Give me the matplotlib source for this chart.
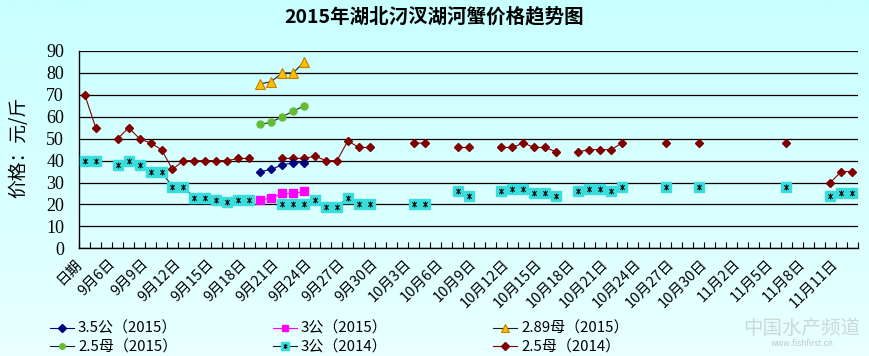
import numpy as np
import matplotlib
matplotlib.use('Agg')
import matplotlib.pyplot as plt
from matplotlib.path import Path
from matplotlib.lines import Line2D

plt.rcParams['font.family'] = ['Noto Sans CJK SC', 'DejaVu Sans']

N = np.nan

title = '2015年湖北汈汊湖河蟹价格趋势图'
ylabel = '价格：元/斤'

categories = [
    '日期',
    '9月4日', '9月5日', '9月6日', '9月7日', '9月8日', '9月9日', '9月10日', '9月11日', '9月12日',
    '9月13日', '9月14日', '9月15日', '9月16日', '9月17日', '9月18日', '9月19日', '9月20日',
    '9月21日', '9月22日', '9月23日', '9月24日', '9月25日', '9月26日', '9月27日', '9月28日',
    '9月29日', '9月30日',
    '10月1日', '10月2日', '10月3日', '10月4日', '10月5日', '10月6日', '10月7日', '10月8日',
    '10月9日', '10月10日', '10月11日', '10月12日', '10月13日', '10月14日', '10月15日',
    '10月16日', '10月17日', '10月18日', '10月19日', '10月20日', '10月21日', '10月22日',
    '10月23日', '10月24日', '10月25日', '10月26日', '10月27日', '10月28日', '10月29日',
    '10月30日', '10月31日',
    '11月1日', '11月2日', '11月3日', '11月4日', '11月5日', '11月6日', '11月7日', '11月8日',
    '11月9日', '11月10日', '11月11日', '11月12日',
]

# 2014 series
mu25_2014 = [70, 55, N, 50, 55, 50, 48, 45, 36, 40,
             40, 40, 40, 40, 41, 41, N, N, 41, 41,
             41, 42, 40, 40, 49, 46, 46, N, N, N,
             48, 48, N, N, 46, 46, N, N, 46, 46,
             48, 46, 46, 44, N, 44, 45, 45, 45, 48,
             N, N, N, 48, N, N, 48, N, N, N,
             N, N, N, N, 48, N, N, N, 30, 35,
             35]
gong3_2014 = [40, 40, N, 38, 40, 38, 35, 35, 28, 28,
              23, 23, 22, 21, 22, 22, N, N, 20, 20,
              20, 22, 19, 19, 23, 20, 20, N, N, N,
              20, 20, N, N, 26, 24, N, N, 26, 27,
              27, 25, 25, 24, N, 26, 27, 27, 26, 28,
              N, N, N, 28, N, N, 28, N, N, N,
              N, N, N, N, 28, N, N, N, 24, 25,
              25]

# 2015 series (only 9月19日 - 9月23日 reported)
gong35_2015 = [N] * 16 + [35, 36, 38, 39, 39] + [N] * 50
gong3_2015 = [N] * 16 + [22, 23, 25, 25, 26] + [N] * 50
mu289_2015 = [N] * 16 + [75, 76, 80, 80, 85] + [N] * 50
mu25_2015 = [N] * 16 + [56.5, 57.5, 60, 62.5, 65] + [N] * 50

labels = ['3.5公（2015）', '3公（2015）', '2.89母（2015）',
          '2.5母（2015）', '3公（2014）', '2.5母（2014）']

W, H = 869, 356
fig = plt.figure(figsize=(W / 100, H / 100), dpi=100)

# background gradient
bg = fig.add_axes([0, 0, 1, 1], zorder=-10)
grad = np.linspace(0, 1, 256)[:, None]
c_top = np.array([200, 255, 255]) / 255
c_bot = np.array([232, 255, 255]) / 255
img = c_top[None, None, :] * (1 - grad[:, :, None]) + c_bot[None, None, :] * grad[:, :, None]
img = np.repeat(img, 2, axis=1)
bg.imshow(img, aspect='auto', extent=[0, 1, 0, 1])
bg.set_axis_off()

left, right, top, bottom = 79.3, 857.7, 51.0, 248.3
ax = fig.add_axes([left / W, 1 - bottom / H, (right - left) / W, (bottom - top) / H])
ax.set_facecolor('none')

x = np.arange(len(categories))

star = Path([(0, -1), (0, 1), (-0.75, -0.75), (0.75, 0.75), (-0.75, 0.75), (0.75, -0.75)],
            [Path.MOVETO, Path.LINETO, Path.MOVETO, Path.LINETO, Path.MOVETO, Path.LINETO])

lw = 0.8
h_red, = ax.plot(x, mu25_2014, color='#800000', lw=lw, marker='D', ms=4.5,
                 mfc='#800000', mec='#800000', zorder=5)
h_cy, = ax.plot(x, gong3_2014, color='#1a1a3a', lw=lw, marker='s', ms=7.5,
                mfc='#38dede', mec='#38dede', zorder=4)
h_cy2, = ax.plot(x, gong3_2014, ls='none', marker=star, ms=4.2, mec='#101010',
                 mew=0.8, zorder=4.5)
h_navy, = ax.plot(x, gong35_2015, color='#000080', lw=lw, marker='D', ms=4.5,
                  mfc='#000080', mec='#000080', zorder=6)
h_mag, = ax.plot(x, gong3_2015, color='#ff00ff', lw=lw, marker='s', ms=5.5,
                 mfc='#ff00ff', mec='#ff00ff', zorder=6)
h_tri, = ax.plot(x, mu289_2015, color='#1a1a3a', lw=lw, marker='^', ms=6.5,
                 mfc='#ffc000', mec='#c08000', mew=0.8, zorder=6)
h_grn, = ax.plot(x, mu25_2015, color='#1a1a3a', lw=lw, marker='o', ms=5,
                 mfc='#66bb33', mec='#66bb33', zorder=6)

ax.set_xlim(-0.5, len(categories) - 0.5)
ax.set_ylim(0, 90)
ax.set_yticks(range(0, 91, 10))
ax.yaxis.grid(True, color='black', lw=0.9)
ax.set_axisbelow(True)
ax.tick_params(axis='y', length=0, pad=11)
for t in ax.get_yticklabels():
    t.set_fontfamily(['Liberation Serif'])
    t.set_fontsize(13)

ax.set_xticks(x[::3])
ax.set_xticklabels(categories[::3], rotation=45, ha='right', va='top', fontsize=10.5)
ax.set_xticks(np.arange(len(categories) + 1) - 0.5, minor=True)
ax.tick_params(axis='x', which='major', length=0, pad=6)
ax.tick_params(axis='x', which='minor', direction='in', length=4, width=0.8, color='black')

for s in ['top', 'right']:
    ax.spines[s].set_visible(False)
for s in ['left', 'bottom']:
    ax.spines[s].set_color('black')
    ax.spines[s].set_linewidth(1.0)

fig.text(0.5, 1 - 17 / H, title, ha='center', va='center', fontsize=14, fontweight='bold')
fig.text(19 / W, 1 - 147 / H, ylabel, rotation=90, ha='center', va='center', fontsize=13.5)

# legends (three columns, two rows)
leg_kw = dict(frameon=False, fontsize=10.8, handlelength=1.6, handletextpad=0.3,
              labelspacing=0.28, borderpad=0, numpoints=1, loc='upper left',
              markerscale=0.8)
cols = [
    ([h_navy, h_grn], [labels[0], labels[3]], 42),
    ([h_mag, (h_cy, h_cy2)], [labels[1], labels[4]], 265),
    ([h_tri, h_red], [labels[2], labels[5]], 485),
]
for hs, ls, xpx in cols:
    fig.legend(hs, ls, bbox_to_anchor=(xpx / W, 1 - 314 / H), **leg_kw)

# watermark
fig.text(802 / W, 1 - 328 / H, '中国水产频道', ha='center', va='center', fontsize=14,
         color='#c8d4d4', alpha=0.9)
fig.text(802 / W, 1 - 344 / H, 'www.fishfirst.cn', ha='center', va='center', fontsize=6,
         color='#b8c4c4', alpha=0.9)

fig.savefig('out.png', dpi=100)
